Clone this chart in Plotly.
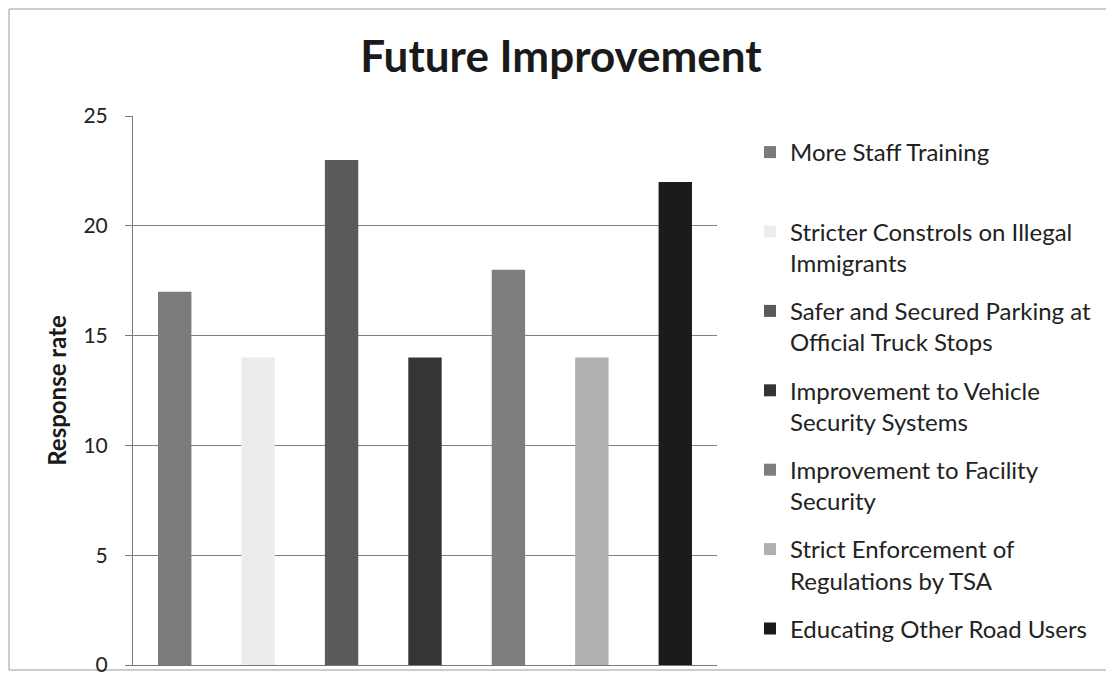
"""Future Improvement bar chart."""

import plotly.graph_objects as go

categories = [
    "More Staff Training<br> ",
    "Stricter Constrols on Illegal<br>Immigrants",
    "Safer and Secured Parking at<br>Official Truck Stops",
    "Improvement to Vehicle<br>Security Systems",
    "Improvement to Facility<br>Security",
    "Strict Enforcement of<br>Regulations by TSA",
    "Educating Other Road Users",
]
responses = [17, 14, 23, 14, 18, 14, 22]
bar_colors = ["#7b7b7b", "#ececec", "#5a5a5a", "#353535", "#7e7e7e", "#b0b0b0", "#1b1b1b"]

FONT = "Lato, 'Noto Sans', sans-serif"

# plot area in figure pixels (page body adds 8px offset)
W, H = 1106, 685
L, R, T, B = 125, 397, 108, 28
PW, PH = W - L - R, H - T - B

fig = go.Figure()
for i, (name, val, col) in enumerate(zip(categories, responses, bar_colors)):
    fig.add_trace(
        go.Bar(
            x=[i],
            y=[val],
            name=name,
            legendgroup=f"g{i}",
            marker=dict(color=col, line=dict(width=0)),
            width=0.4,
        )
    )

fig.update_layout(
    width=W,
    height=H,
    paper_bgcolor="white",
    plot_bgcolor="white",
    margin=dict(l=L, r=R, t=T, b=B),
    font=dict(family=FONT, color="#222222"),
    title=dict(
        text="<b>Future Improvement</b>",
        x=0.5,
        xanchor="center",
        y=1 - 49 / H,
        yanchor="middle",
        font=dict(size=44, family=FONT, color="#1a1a1a"),
    ),
    showlegend=True,
    legend=dict(
        x=(742 - L) / PW,
        xanchor="left",
        y=(H - B - 122) / PH,
        yanchor="top",
        font=dict(size=24, family=FONT, color="#222222"),
        tracegroupgap=14,
        valign="top",
        bgcolor="rgba(0,0,0,0)",
    ),
)

fig.update_xaxes(
    range=[-0.5, 6.5],
    showticklabels=False,
    showgrid=False,
    ticks="",
    showline=True,
    linecolor="#777777",
    linewidth=1,
    zeroline=False,
)
fig.update_yaxes(
    range=[0, 25],
    tickvals=[0, 5, 10, 15, 20, 25],
    tickfont=dict(size=21, family=FONT, color="#222222"),
    ticks="outside",
    ticklen=7,
    tickcolor="#777777",
    ticklabelstandoff=13,
    showgrid=True,
    gridcolor="#808080",
    gridwidth=1,
    showline=True,
    linecolor="#777777",
    linewidth=1,
    zeroline=False,
    title=dict(text="<b>Response rate</b>", font=dict(size=24, family=FONT, color="#1a1a1a"), standoff=10),
)

# light frame round the whole chart
fig.add_shape(
    type="rect",
    xref="paper",
    yref="paper",
    x0=(1 - L) / PW,
    x1=(W - 5 - L) / PW,
    y0=-(B - 23) / PH,
    y1=(H - B - 1) / PH,
    line=dict(color="#9a9a9a", width=1),
    layer="below",
)

fig.write_html("out.html")
